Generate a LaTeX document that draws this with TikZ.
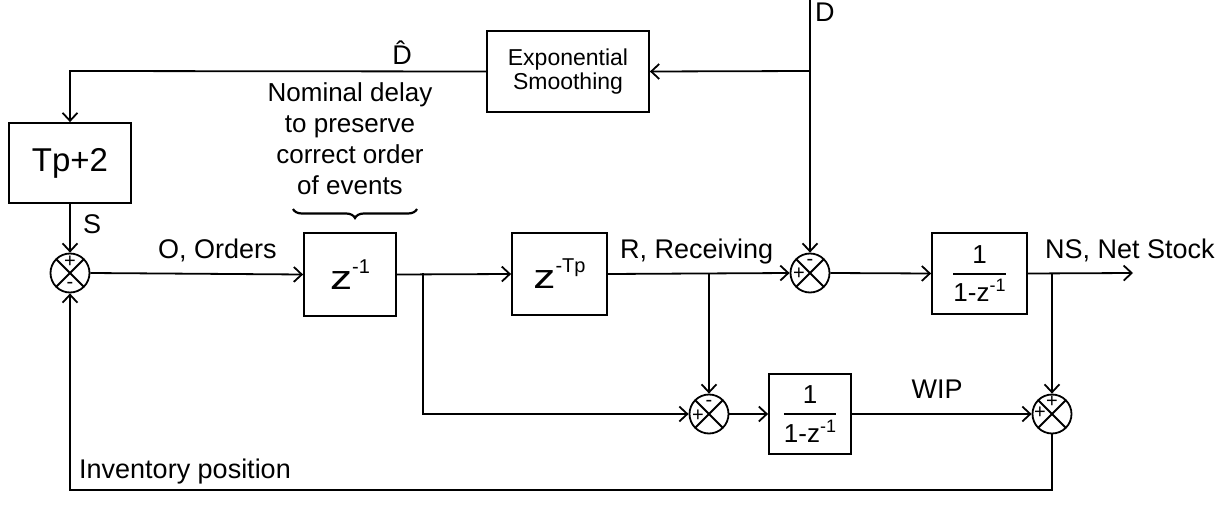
\documentclass[tikz,border=0pt]{standalone}
\usepackage{fontspec}
\setmainfont{Liberation Sans}
\usetikzlibrary{arrows.meta,decorations.pathreplacing,calc}
\newcommand{\fs}[1]{\fontsize{#1}{#1}\selectfont}
\newcommand{\invfrac}{\fs{26}$\displaystyle{\hbox{\fs{26}1}\above 1.6pt\hbox{\fs{26}1-z\raisebox{10pt}{\fs{18}-1}}}$}
\newcommand{\bigz}[1]{\fs{34}\scalebox{1.3}[1]{z}\raisebox{16pt}{\fs{20}#1}}
\begin{document}
\begin{tikzpicture}[x=1pt,y=-1pt,
  blk/.style={draw, line width=1.8pt, inner sep=0pt},
  sumj/.style={circle, draw, line width=1.8pt, minimum size=39pt, inner sep=0pt,
    path picture={\draw[line width=1.8pt] (path picture bounding box.north west) -- (path picture bounding box.south east) (path picture bounding box.north east) -- (path picture bounding box.south west);}},
  sig/.style={font=\fs{20}, inner sep=0pt},
  lbl/.style={font=\fs{27}, inner sep=0pt},
  conn/.style={line width=1.8pt, -{Straight Barb[length=8pt,width=15pt,line width=1.8pt]}},
  wire/.style={line width=1.8pt}]
\useasboundingbox (0,0) rectangle (1224,519);

% blocks
\node[blk, minimum width=162pt, minimum height=81pt, align=center, font=\fs{23}] (sm) at (568,71.5) {Exponential\\[1pt]Smoothing};
\node[blk, minimum width=122pt, minimum height=80pt, font=\fs{33}] (tp) at (70,163) {Tp+2};
\node[blk, minimum width=92pt, minimum height=83pt] (z1) at (350,274.5) {\bigz{-1}};
\node[blk, minimum width=95pt, minimum height=82pt] (ztp) at (559.5,274) {\bigz{-Tp}};
\node[blk, minimum width=95pt, minimum height=81pt] (ns) at (979.5,273.5) {\invfrac};
\node[blk, minimum width=82pt, minimum height=80pt] (wip) at (810,414) {\invfrac};

% summing junctions
\node[sumj] (s1) at (70,273) {};
\node[sumj] (s2) at (810,273) {};
\node[sumj] (s3) at (709,414) {};
\node[sumj] (s4) at (1052,414) {};
\node[sig] at ($(s1)+(0,-11)$) {+};
\node[sig] at ($(s1)+(0,12)$) {-};
\node[sig] at ($(s2)+(-11,1)$) {+};
\node[sig] at ($(s2)+(0,-11)$) {-};
\node[sig] at ($(s3)+(-11,2)$) {+};
\node[sig] at ($(s3)+(0,-11)$) {-};
\node[sig] at ($(s4)+(0,-12)$) {+};
\node[sig] at ($(s4)+(-12,-1)$) {+};

% coordinates
\coordinate (dtop) at (810,0);
\coordinate (dsplit) at (810,71);
\coordinate (dhc) at (70,71);
\coordinate (obr) at (423,273);
\coordinate (obrd) at (423,414);
\coordinate (rbr) at (709,273);
\coordinate (nsbr) at (1052,273);
\coordinate (nsout) at (1133,273);
\coordinate (ipr) at (1052,490);
\coordinate (ipl) at (70,490);

% connectors
\draw[conn] (dtop) -- (s2.north);
\draw[conn] (dsplit) -- (sm.east);
\draw[conn] (sm.west) -- (dhc) -- (tp.north);
\draw[conn] (tp.south) -- (s1.north);
\draw[conn] (s1.east) -- (z1.west);
\draw[conn] (z1.east) -- (ztp.west);
\draw[conn] (obr) -- (obrd) -- (s3.west);
\draw[conn] (ztp.east) -- (s2.west);
\draw[conn] (rbr) -- (s3.north);
\draw[conn] (s2.east) -- (ns.west);
\draw[conn] (ns.east) -- (nsout);
\draw[conn] (nsbr) -- (s4.north);
\draw[conn] (s3.east) -- (wip.west);
\draw[conn] (wip.east) -- (s4.west);
\draw[conn] (s4.south) -- (ipr) -- (ipl) -- (s1.south);

% labels
\node[lbl, anchor=base west] (ld) at (815,22) {D};
\node[lbl, anchor=base] (ldh) at (402,65) {\^{D}};
\node[lbl, anchor=base west] (ls) at (83,233) {S};
\node[lbl, anchor=base west] (lo) at (158,258) {O, Orders};
\node[lbl, anchor=base west] (lr) at (620,258) {R, Receiving};
\node[lbl, anchor=base west] (lns) at (1045,258) {NS, Net Stock};
\node[lbl, anchor=base] (lw) at (937,398) {WIP};
\node[lbl, anchor=base west] (lip) at (79,478) {Inventory position};
\node[inner sep=0pt, align=center, font=\fontsize{26}{31}\selectfont] (nom) at (350,139) {Nominal delay\\to preserve\\correct order\\of events};
\coordinate (brr) at (417,209);
\coordinate (brl) at (293,209);
\draw[decorate, decoration={brace, amplitude=9pt}, line width=2.2pt] (brr) -- (brl);
\end{tikzpicture}
\end{document}
